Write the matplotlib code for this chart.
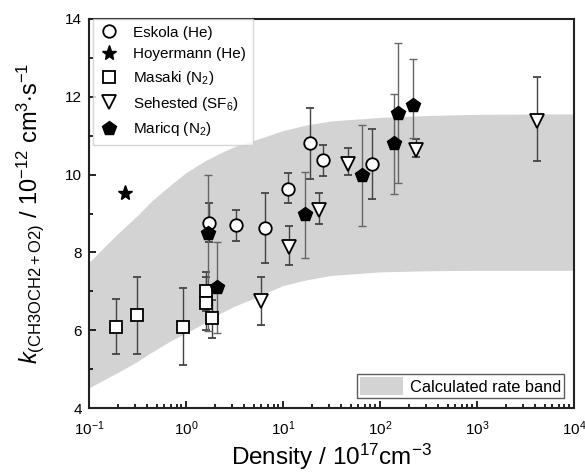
import matplotlib
matplotlib.use("Agg")
import matplotlib.pyplot as plt
import numpy as np
from matplotlib.patches import Patch
from matplotlib.lines import Line2D

plt.rcParams['font.family'] = ['Liberation Sans', 'DejaVu Sans']
plt.rcParams['mathtext.fontset'] = 'custom'
plt.rcParams['mathtext.rm'] = 'Liberation Sans'
plt.rcParams['mathtext.it'] = 'Liberation Sans:italic'
plt.rcParams['mathtext.bf'] = 'Liberation Sans:bold'

# ---- data ----
eskola_x = [1.75, 3.3, 6.5, 11.2, 19.0, 25.6, 83.0]
eskola_y = [8.75, 8.70, 8.64, 9.64, 10.80, 10.38, 10.28]
eskola_lo = [8.26, 8.30, 7.72, 9.26, 9.90, 9.97, 9.38]
eskola_hi = [9.26, 9.10, 9.54, 10.05, 11.70, 10.77, 11.18]

hoyer_x = [0.235]
hoyer_y = [9.54]

masaki_x = [0.19, 0.31, 0.93, 1.6, 1.6, 1.85]
masaki_y = [6.08, 6.38, 6.08, 7.00, 6.70, 6.31]
masaki_lo = [5.38, 5.38, 5.10, 6.50, 6.00, 5.80]
masaki_hi = [6.80, 7.38, 7.08, 7.49, 7.38, 6.77]

sehested_x = [5.93, 11.5, 23.5, 47.0, 235.0, 4170.0]
sehested_y = [6.74, 8.13, 9.10, 10.28, 10.64, 11.38]
sehested_lo = [6.13, 7.67, 8.72, 10.00, 10.44, 10.35]
sehested_hi = [7.36, 8.69, 9.54, 10.69, 10.92, 12.50]

maricq_x = [1.69, 2.09, 16.9, 65.0, 139.0, 153.0, 218.0]
maricq_y = [8.49, 7.10, 9.00, 10.00, 10.80, 11.59, 11.79]
maricq_lo = [5.97, 5.92, 7.87, 8.69, 9.51, 9.79, 10.95]
maricq_hi = [10.00, 8.28, 10.08, 11.28, 12.08, 13.38, 12.97]

band_logx = [-1.0, -0.85, -0.7, -0.5, -0.35, -0.15, 0.0, 0.2, 0.35, 0.5, 0.7,
             1.0, 1.25, 1.5, 2.0, 2.5, 3.0, 4.0]
band_upper = [7.74, 8.12, 8.49, 8.95, 9.33, 9.75, 10.05, 10.36, 10.55, 10.72, 10.88,
              11.13, 11.28, 11.38, 11.47, 11.52, 11.55, 11.56]
band_lower = [4.52, 4.72, 4.92, 5.20, 5.44, 5.74, 5.93, 6.20, 6.43, 6.62, 6.82,
              7.15, 7.30, 7.41, 7.50, 7.53, 7.54, 7.54]

# ---- figure ----
fig = plt.figure(figsize=(5.85, 4.74), dpi=100)
ax = fig.add_axes([0.152, 0.139, 0.829, 0.821])

band_x = 10.0 ** np.array(band_logx)
ax.fill_between(band_x, band_lower, band_upper, color='#d3d3d3', lw=0, zorder=1)


def yerr(y, lo, hi):
    y = np.array(y); return [y - np.array(lo), np.array(hi) - y]

ebkw = dict(ls='none', capsize=3.0, elinewidth=1.0, capthick=1.0, zorder=3)
ax.errorbar(masaki_x, masaki_y, yerr=yerr(masaki_y, masaki_lo, masaki_hi), ecolor='#444444',
            marker='s', ms=8, mfc='white', mec='black', mew=1.3, **ebkw)
ax.errorbar(eskola_x, eskola_y, yerr=yerr(eskola_y, eskola_lo, eskola_hi), ecolor='#444444',
            marker='o', ms=9, mfc='white', mec='black', mew=1.3, **ebkw)
ax.errorbar(sehested_x, sehested_y, yerr=yerr(sehested_y, sehested_lo, sehested_hi), ecolor='#444444',
            marker='v', ms=10, mfc='white', mec='black', mew=1.3, **ebkw)
ax.errorbar(maricq_x, maricq_y, yerr=yerr(maricq_y, maricq_lo, maricq_hi), ecolor='#666666',
            marker='p', ms=10.5, mfc='black', mec='black', mew=1.0, **ebkw)
ax.plot(hoyer_x, hoyer_y, ls='none', marker='*', ms=11, color='black', zorder=3)

ax.set_xscale('log')
ax.set_xlim(0.1, 1e4)
ax.set_ylim(4, 14)
ax.set_yticks([4, 6, 8, 10, 12, 14])
ax.set_yticks([5, 7, 9, 11, 13], minor=True)
ax.tick_params(axis='both', which='both', direction='in', top=False, right=False,
               labelsize=11, width=1.2)
ax.tick_params(which='major', length=5)
ax.tick_params(which='minor', length=3)
ax.tick_params(axis='x', pad=8)
ax.tick_params(axis='y', pad=5)
for s in ax.spines.values():
    s.set_linewidth(1.5)
    s.set_color('#222222')

ax.set_xlabel(r'Density / 10$^{17}$cm$^{-3}$', fontsize=17.5, labelpad=3)
ax.set_ylabel(r'$k_{\mathrm{(CH3OCH2+O2)}}$ / 10$^{-12}$ cm$^{3}$$\cdot$s$^{-1}$', fontsize=17,
              labelpad=14)

handles = [
    Line2D([], [], ls='none', marker='o', ms=9, mfc='white', mec='black', mew=1.3),
    Line2D([], [], ls='none', marker='*', ms=11, color='black'),
    Line2D([], [], ls='none', marker='s', ms=8, mfc='white', mec='black', mew=1.3),
    Line2D([], [], ls='none', marker='v', ms=10, mfc='white', mec='black', mew=1.3),
    Line2D([], [], ls='none', marker='p', ms=10.5, mfc='black', mec='black'),
]
labels = ['Eskola (He)', 'Hoyermann (He)', r'Masaki (N$_2$)', r'Sehested (SF$_6$)', r'Maricq (N$_2$)']
leg1 = ax.legend(handles, labels, loc='upper left', bbox_to_anchor=(0.008, 1.0), fontsize=11,
                 frameon=True, fancybox=False, edgecolor='#cccccc', handletextpad=1.0,
                 labelspacing=0.5, borderpad=0.45, handlelength=1.2, borderaxespad=0.0)
leg1.get_frame().set_linewidth(1.0)
ax.add_artist(leg1)

leg2 = ax.legend([Patch(facecolor='#d3d3d3', edgecolor='none')], ['Calculated rate band'],
                 loc='lower right', fontsize=11.8, frameon=True, fancybox=False,
                 edgecolor='#333333', handlelength=2.6, handleheight=1.3, borderpad=0.2,
                 borderaxespad=0.6, handletextpad=0.4)
leg2.get_frame().set_linewidth(1.0)

fig.savefig('out.png', dpi=100)
